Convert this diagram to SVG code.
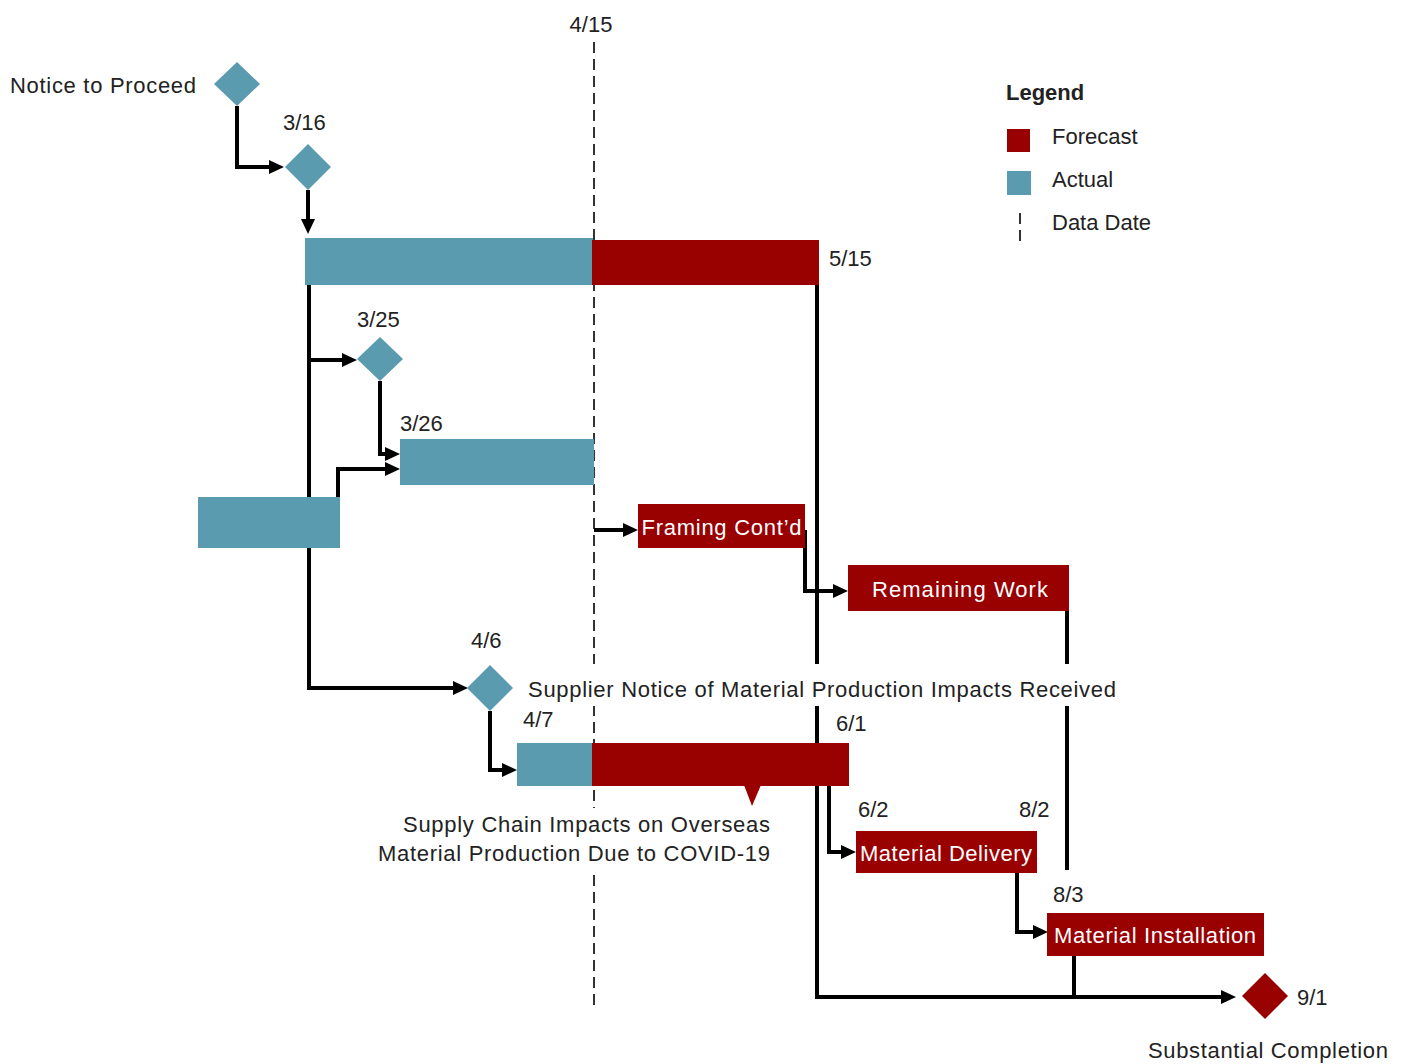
<svg xmlns="http://www.w3.org/2000/svg" width="1405" height="1064" viewBox="0 0 1405 1064">
<style>
text{font-family:"Liberation Sans",Arial,sans-serif;font-size:22px;fill:#222}
.w{fill:#fff}
.b{font-weight:bold}
.act{fill:#5A9BAF}
.fc{fill:#990000}
.con{fill:none;stroke:#000;stroke-width:4}
.dd{stroke:#000;stroke-width:1.6;stroke-dasharray:11,6;fill:none}
</style>
<defs>
<marker id="ah" markerWidth="16" markerHeight="16" refX="5" refY="8" orient="auto" markerUnits="userSpaceOnUse"><path d="M0,1 L15,8 L0,15 z" fill="#000"/></marker>
</defs>
<rect width="1405" height="1064" fill="#fff"/>
<g id="datadate">
<line class="dd" x1="594" y1="42" x2="594" y2="1008"/>
<text x="591" y="32" text-anchor="middle">4/15</text>
</g>
<g id="connectors">
<path class="con" d="M237,106 V167 H274" marker-end="url(#ah)"/>
<path class="con" d="M308,190 V224" marker-end="url(#ah)"/>
<path class="con" d="M309,285 V688 H458" marker-end="url(#ah)"/>
<path class="con" d="M309,360 H347" marker-end="url(#ah)"/>
<path class="con" d="M380,381 V454 H390" marker-end="url(#ah)"/>
<path class="con" d="M338,497 V469 H390" marker-end="url(#ah)"/>
<path class="con" d="M594,530 H628" marker-end="url(#ah)"/>
<path class="con" d="M805,530 V591 H838" marker-end="url(#ah)"/>
<path class="con" d="M817,285 V997 H1226" marker-end="url(#ah)"/>
<path class="con" d="M490,711 V770 H507" marker-end="url(#ah)"/>
<path class="con" d="M829,786 V852 H846" marker-end="url(#ah)"/>
<path class="con" d="M1067,611 V870"/>
<path class="con" d="M1017,873 V932 H1038" marker-end="url(#ah)"/>
<path class="con" d="M1074,956 V997"/>
</g>
<g id="ntp">
<path class="act" d="M237,62 L260,84 L237,106 L214,84 z"/>
<text x="10" y="93" textLength="186">Notice to Proceed</text>
</g>
<g id="m316">
<path class="act" d="M308,144 L331,167 L308,190 L285,167 z"/>
<text x="283" y="130">3/16</text>
</g>
<g id="bar1">
<rect class="act" x="305" y="238" width="288" height="47"/>
<rect class="fc" x="592" y="240" width="227" height="45"/>
<text x="829" y="266">5/15</text>
</g>
<g id="m325">
<path class="act" d="M380,337 L403,359 L380,381 L357,359 z"/>
<text x="357" y="327">3/25</text>
</g>
<g id="bar2">
<rect class="act" x="400" y="439" width="194" height="46"/>
<text x="400" y="431">3/26</text>
</g>
<g id="bar0">
<rect class="act" x="198" y="497" width="142" height="51"/>
</g>
<g id="framing">
<rect class="fc" x="638" y="504" width="167" height="44"/>
<text class="w" x="721.5" y="535" text-anchor="middle" textLength="160">Framing Cont’d</text>
</g>
<g id="remaining">
<rect class="fc" x="848" y="565" width="221" height="46"/>
<text class="w" x="960" y="597" text-anchor="middle" textLength="176">Remaining Work</text>
</g>
<g id="m46">
<path class="act" d="M490,665 L513,688 L490,711 L467,688 z"/>
<text x="471" y="648">4/6</text>
</g>
<g id="supplier">
<rect x="524" y="664" width="596" height="42" fill="#fff"/>
<text x="528" y="697" textLength="588">Supplier Notice of Material Production Impacts Received</text>
</g>
<g id="bar3">
<rect class="act" x="517" y="743" width="76" height="43"/>
<rect class="fc" x="592" y="743" width="257" height="43"/>
<path class="fc" d="M744,785 L761,785 L752,806 z"/>
<text x="523" y="727">4/7</text>
<text x="836" y="731">6/1</text>
</g>
<g id="supplychain">
<rect x="374" y="808" width="400" height="64" fill="#fff"/>
<text x="770" y="832" text-anchor="end" textLength="367">Supply Chain Impacts on Overseas</text>
<text x="770" y="861" text-anchor="end" textLength="392">Material Production Due to COVID-19</text>
</g>
<g id="delivery">
<rect class="fc" x="856" y="831" width="181" height="42"/>
<text class="w" x="946" y="861" text-anchor="middle" textLength="172">Material Delivery</text>
<text x="858" y="817">6/2</text>
<text x="1019" y="817">8/2</text>
</g>
<g id="installation">
<rect class="fc" x="1047" y="913" width="217" height="43"/>
<text class="w" x="1155" y="943" text-anchor="middle" textLength="202">Material Installation</text>
<text x="1053" y="902">8/3</text>
</g>
<g id="completion">
<path class="fc" d="M1265,973 L1288,996 L1265,1019 L1242,996 z"/>
<text x="1297" y="1005">9/1</text>
<text x="1148" y="1058" textLength="240">Substantial Completion</text>
</g>
<g id="legend">
<text class="b" x="1006" y="100">Legend</text>
<rect class="fc" x="1007" y="129" width="23" height="23"/>
<text x="1052" y="144">Forecast</text>
<rect class="act" x="1007" y="171" width="24" height="24"/>
<text x="1052" y="187">Actual</text>
<line class="dd" x1="1020" y1="213" x2="1020" y2="242" stroke-dasharray="12,5"/>
<text x="1052" y="230">Data Date</text>
</g>
</svg>
